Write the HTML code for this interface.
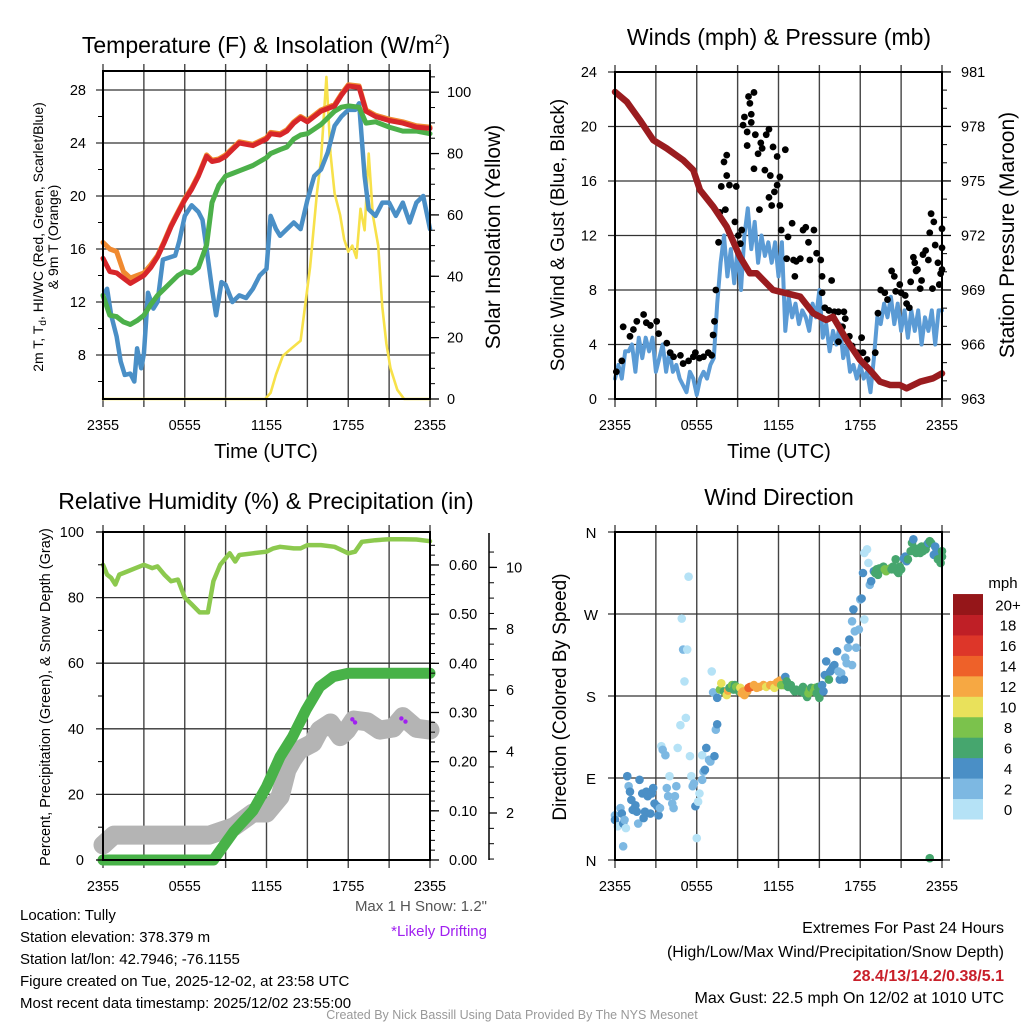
<!DOCTYPE html>
<html><head><meta charset="utf-8"><title>Tully Mesonet Meteogram</title>
<style>
html,body{margin:0;padding:0;background:#fff;}
svg{display:block;font-family:"Liberation Sans",sans-serif;}
</style></head>
<body>
<svg id="chart" xmlns="http://www.w3.org/2000/svg" width="1024" height="1024" viewBox="0 0 1024 1024">
<rect x="0" y="0" width="1024" height="1024" fill="#fff"/>
<g id="grids"></g>
<g id="marks"></g>
<g id="frames"></g>
<g id="labels" font-size="14.5" fill="#000"></g>

<text x="266" y="53" font-size="23" text-anchor="middle">Temperature (F) &amp; Insolation (W/m<tspan font-size="14" dy="-9">2</tspan><tspan dy="9">)</tspan></text>
<text x="779" y="45" font-size="23" text-anchor="middle">Winds (mph) &amp; Pressure (mb)</text>
<text x="266" y="509" font-size="23" text-anchor="middle">Relative Humidity (%) &amp; Precipitation (in)</text>
<text x="779" y="505" font-size="23" text-anchor="middle">Wind Direction</text>

<text x="266" y="458" font-size="20" text-anchor="middle">Time (UTC)</text>
<text x="779" y="458" font-size="20" text-anchor="middle">Time (UTC)</text>

<text transform="translate(43,237) rotate(-90)" font-size="14" text-anchor="middle">2m T, T<tspan font-size="10" dy="3">d</tspan><tspan dy="-3">, HI/WC (Red, Green, Scarlet/Blue)</tspan></text>
<text transform="translate(58,237) rotate(-90)" font-size="14" text-anchor="middle">&amp; 9m T (Orange)</text>
<text transform="translate(500,237) rotate(-90)" font-size="21" text-anchor="middle">Solar Insolation (Yellow)</text>
<text transform="translate(564,235) rotate(-90)" font-size="19" text-anchor="middle">Sonic Wind &amp; Gust (Blue, Black)</text>
<text transform="translate(1014,235) rotate(-90)" font-size="21" text-anchor="middle">Station Pressure (Maroon)</text>
<text transform="translate(50,697) rotate(-90)" font-size="14.5" text-anchor="middle">Percent, Precipitation (Green), &amp; Snow Depth (Gray)</text>
<text transform="translate(566,697) rotate(-90)" font-size="19" text-anchor="middle">Direction (Colored By Speed)</text>

<text x="1003" y="588" font-size="15" text-anchor="middle">mph</text>
<g id="colorbar"></g>

<text x="487" y="911" font-size="15" text-anchor="end" fill="#555">Max 1 H Snow: 1.2"</text>
<text x="487" y="936" font-size="15" text-anchor="end" fill="#a020f0">*Likely Drifting</text>

<g font-size="15">
<text x="20" y="920">Location: Tully</text>
<text x="20" y="942">Station elevation: 378.379 m</text>
<text x="20" y="964">Station lat/lon: 42.7946; -76.1155</text>
<text x="20" y="986">Figure created on Tue, 2025-12-02, at 23:58 UTC</text>
<text x="20" y="1008">Most recent data timestamp: 2025/12/02 23:55:00</text>
</g>
<g font-size="16" text-anchor="end">
<text x="1004" y="933">Extremes For Past 24 Hours</text>
<text x="1004" y="957">(High/Low/Max Wind/Precipitation/Snow Depth)</text>
<text x="1004" y="981" fill="#c8202a" font-weight="bold">28.4/13/14.2/0.38/5.1</text>
<text x="1004" y="1003">Max Gust: 22.5 mph On 12/02 at 1010 UTC</text>
</g>
<text x="512" y="1019" font-size="12.5" fill="#999" text-anchor="middle">Created By Nick Bassill Using Data Provided By The NYS Mesonet</text>
</svg>

<script>
// ---------- DATA ----------
const timeTickLabels = ["2355","0555","1155","1755","2355"];
const tempTickLabels = [8,12,16,20,24,28];
const insolTickLabels = [0,20,40,60,80,100];
const windTickLabels = [0,4,8,12,16,20,24];
const pressTickLabels = [963,966,969,972,975,978,981];
const rhTickLabels = [0,20,40,60,80,100];
const precipTickLabels = [0.00,0.10,0.20,0.30,0.40,0.50,0.60];
const snowTickLabels = [2,4,6,8,10];
const dirTickLabels = ["N","E","S","W","N"];
const dirTickValues = [0,90,180,270,360];
const speedBins = ["0","2","4","6","8","10","12","14","16","18","20+"];
const speedColors = ["#b5e2f6","#7db8e2","#4a8fc6","#46a66e","#7bc24c","#e9e15b","#f6a843","#ee6129","#dd3629","#bf1f26","#951619"];

const tempTimes = [0,0.5,1,1.5,2,2.5,3,3.5,4,4.5,5,5.5,6,6.5,7,7.6,8,8.5,9,9.5,10,11,12,12.3,13,13.5,14,14.5,15,16,17,17.5,18,18.8,19.3,20,21,22,23,24];
const tempRed    = [15.3,14.3,14.2,13.8,13.4,13.7,14.0,14.6,15.4,16.5,17.7,18.7,19.7,20.5,21.5,23.0,22.6,22.7,23.0,23.5,24.0,23.8,24.3,24.7,24.6,24.9,25.5,25.9,25.6,26.4,26.8,27.6,28.3,28.2,26.4,26.0,25.7,25.5,25.2,25.1];
const tempOrange = [16.5,16.0,15.8,14.3,13.8,14.0,14.2,14.8,15.5,16.6,17.8,18.8,19.8,20.6,21.6,23.1,22.7,22.8,23.1,23.6,24.1,23.9,24.4,24.8,24.7,25.0,25.6,26.0,25.7,26.5,26.9,27.7,28.4,28.3,26.5,26.1,25.8,25.6,25.3,25.2];
const dewGreen   = [12.5,11.0,10.9,10.5,10.3,10.6,11.0,11.8,12.5,13.0,13.5,14.0,14.3,14.2,14.6,16.3,19.5,20.8,21.5,21.7,21.9,22.3,22.9,23.2,23.5,23.7,24.3,24.6,24.7,25.4,26.4,26.7,26.8,26.7,25.5,25.6,25.2,24.9,24.9,24.7];
const chillTimes = [0,0.3,0.6,1,1.3,1.6,2,2.3,2.5,2.8,3,3.3,3.7,4,4.4,5.3,5.6,6,6.5,7,7.3,7.6,8,8.3,8.7,9,9.5,10,10.5,11,11.5,12,12.3,12.7,13,13.5,14,14.5,15,15.5,16,16.5,17,17.5,18,18.5,18.8,19.2,19.5,20,20.5,21,21.5,22,22.5,23,23.5,24];
const chillBlue  = [12.5,13,11,9.4,7.5,6.5,6.6,6.0,8.5,7.0,8.1,12.7,11.5,12.0,15.2,15.5,16.6,18.5,19.3,18.8,18.2,16,13,11,13.5,13.3,12,12.5,12.3,13,14,14.5,18.5,17.5,17,17.5,18,17.5,19.7,21.5,22,23.3,25.3,26,26.5,26.5,27,21.5,19,18.5,19.5,19.5,18.5,19.5,18,19.5,20,17.5];
const insolTimes = [0,11.9,12.3,12.7,13.2,13.7,14.5,15.2,15.7,16.0,16.4,16.7,17.0,17.4,17.7,18.0,18.3,18.6,18.9,19.2,19.5,19.8,20.2,20.5,20.8,21.1,21.6,22.1,24];
const insolYellow= [0,0,2,8,14,16,19,43,67,78,105,80,67,60,52,48,50,46,62,55,80,60,50,30,18,10,3,0,0];

const windStepHours = 0.25;
const sonicWind = [1.5,2.5,1.5,3.5,3.5,4,2,4.5,3,4.5,3.5,4.5,2,3,4,2,3.5,2,2.5,1.5,1,0.5,2,1.5,0.3,1.5,2,1.5,2.5,3,7,10,12,9,11,8.5,11,8,12,14,11,13,10,12,10.5,11.5,10,11.5,9,11.5,5,7.5,6,7,5.5,6.5,6,5,7,6,8,4.5,5.5,3.5,5,4,5.5,3,4,2,2.5,1.5,2.5,1.5,2,0.5,3,6,5.5,7,6,7.5,5.5,7,5,6.5,4.5,6.5,5,6.5,4,6,5,6.5,4,6.5,6.5];
const gustTimes = [0.1,0.5,0.6,1.1,1.35,1.6,2.1,2.3,2.6,3.06,3.2,3.8,4.05,4.3,4.8,5.0,5.4,5.75,5.9,6.2,6.5,6.85,7.1,7.2,7.3,7.4,7.6,7.7,7.8,8.0,8.2,8.1,8.2,8.4,8.9,8.8,9.05,9.2,9.3,9.4,9.5,9.7,9.7,9.8,9.9,10.0,10.0,10.2,10.3,10.2,10.5,10.7,10.8,10.6,11.0,11.1,11.3,11.3,11.4,11.5,11.6,11.7,11.9,11.9,12.1,12.1,12.2,12.5,12.6,12.7,13.0,13.1,13.3,13.6,13.2,13.8,14.0,14.2,14.3,14.6,14.8,15.1,15.2,15.2,15.4,15.7,15.9,16.1,16.4,16.8,16.9,16.7,16.4,17.2,17.4,17.8,18.1,18.2,18.5,19.1,19.3,19.5,19.8,20.0,20.3,20.5,20.6,20.9,21.0,21.3,21.4,21.6,21.7,21.9,22.0,22.1,22.2,22.4,22.5,22.6,22.8,23.0,23.1,23.2,23.3,23.4,23.5,23.7,23.8,23.9,24.0,24.0,24.0];
const gustSpeed = [2.0,2.8,5.3,4.6,5.1,5.7,6.2,5.6,5.4,5.7,4.8,4.1,3.4,3.1,3.2,2.6,2.8,3.1,3.4,3.0,3.1,3.4,3.2,4.7,5.7,8.0,11.5,13.7,15.6,17.4,17.9,13.9,16.4,15.7,15.6,13.0,12.0,11.4,12.4,20.1,20.7,19.6,18.6,22.2,21.7,20.3,20.9,22.5,19.4,16.9,18.0,18.8,18.4,13.9,16.8,19.4,19.8,14.8,16.4,14.2,18.5,15.2,17.8,15.7,16.3,14.2,12.4,18.3,10.3,11.9,12.9,10.2,10.1,10.3,9.0,12.4,12.6,11.5,10.2,12.4,10.7,10.2,9.0,7.8,6.7,6.5,8.7,6.4,6.4,6.4,5.9,5.3,4.2,4.6,3.9,3.4,4.5,3.4,2.9,3.4,6.3,8.0,7.8,7.3,9.4,9.0,7.9,8.4,7.8,7.6,7.0,6.7,8.6,10.4,10.0,9.4,9.5,8.1,8.7,10.6,10.9,10.2,12.2,13.6,8.1,13.0,11.3,10.0,8.4,9.2,11.1,9.5,12.5];
const pressTimes = [0,0.86,1.83,2.81,3.79,5.0,5.75,6.24,7.22,8.2,9.17,9.9,10.4,11.6,12.6,13.6,14.55,15.5,16.0,17.0,17.98,18.7,19.45,20.2,20.9,21.4,22.4,23.35,24];
const pressure   = [979.9,979.36,978.35,977.25,976.8,976.15,975.6,974.5,973.58,972.48,970.83,969.92,969.92,969.0,968.82,968.63,967.72,967.35,967.53,966.25,965.15,964.6,963.95,963.77,963.77,963.59,963.95,964.14,964.41];

const rhTimes = [0,0.3,0.6,0.9,1.2,1.8,2.4,3,3.6,4,4.5,5,5.5,6,6.5,7.1,7.7,8.1,8.6,9.3,9.7,10,11,12,12.5,13,14,14.5,15,16,17,18,18.5,19,20,21,22,23,24];
const relHumidity = [90,87,86,84,87,88,89,90,89,89.5,87,85,85.5,80,78,75.5,75.5,85,90,93.5,91,93,93.5,94,95,95.5,95,95,96,96,95.5,93.5,94,97,97.5,97.8,97.8,97.7,97.2];
const precipTimes = [0,8.1,9.6,11.0,12.0,13.0,13.9,14.9,15.9,16.9,18.0,24];
const precipIn    = [0,0,0.058,0.10,0.149,0.21,0.25,0.305,0.352,0.373,0.38,0.38];
const snowTimes = [0,0.8,7.8,9.6,11.0,12.0,13.0,13.5,13.9,14.4,15.4,15.9,16.7,17.4,17.9,18.4,19.4,20.3,21.3,22.0,23.0,24];
const snowDepth = [0.96,1.28,1.28,1.55,2.0,2.0,2.53,3.4,3.73,4.05,4.28,4.7,4.93,4.49,4.7,5.03,4.97,4.7,4.77,5.14,4.76,4.7];
const driftTimes = [18.3,18.5,21.9,22.2];
const driftDepth = [5.05,4.95,5.08,4.98];

const dirTimes = [0,0,0.2,0.4,0.5,0.6,0.7,0.8,0.9,1.0,1.1,1.2,1.3,1.5,1.6,1.7,1.8,2.0,2.1,2.2,2.3,2.4,2.6,2.7,2.8,2.9,3.1,3.2,3.3,0.6,
3.4,3.5,3.7,3.8,3.9,4.0,4.2,4.3,4.4,4.5,4.6,4.8,4.9,5.0,5.1,5.2,5.3,5.4,5.5,5.6,5.7,5.8,5.9,6.0,6.1,6.2,6.4,6.4,6.5,6.6,6.7,6.9,7.0,7.1,7.2,7.3,7.4,7.5,7.5,
7.7,7.8,8.0,8.2,8.3,8.4,8.6,8.7,8.8,8.9,9.1,9.2,9.3,9.4,9.5,9.7,9.8,9.9,10.0,10.2,10.4,10.6,10.9,11.1,11.4,11.6,11.7,11.9,12.1,12.2,12.4,12.5,12.6,12.7,12.9,13.1,13.2,13.3,13.6,13.8,13.9,14.1,14.2,14.3,14.4,14.6,14.7,14.8,14.9,15.0,15.2,15.3,
15.4,15.5,15.7,15.8,15.9,16.0,16.1,16.3,16.4,16.5,16.6,16.8,16.9,17.0,17.1,17.2,17.4,17.5,17.4,17.6,17.7,17.9,18.0,18.1,18.2,18.3,18.3,18.5,18.6,18.7,18.8,
19.0,19.1,19.2,19.3,19.4,19.6,19.7,19.8,19.9,20.1,20.2,20.3,20.4,20.6,20.7,20.8,20.9,21.0,21.2,21.3,21.4,21.5,21.7,21.8,21.9,22.0,22.1,22.3,22.4,22.5,22.6,22.8,22.9,23.0,23.1,23.2,23.4,23.5,23.6,23.7,23.9,24.0,24.0,23.1];
const dirDeg = [49,44,37,57,51,40,44,35,92,81,75,66,55,60,53,40,88,73,46,53,75,70,51,73,79,62,59,49,57,15,
125,121,115,79,70,92,62,57,70,81,123,148,265,231,196,156,231,311,114,92,81,84,59,24,64,73,115,88,97,99,123,110,108,207,184,114,143,149,178,
187,194,185,181,186,189,192,187,192,190,185,189,183,185,181,185,189,190,190,192,189,190,192,190,192,192,189,195,197,192,192,201,196,190,192,187,185,187,185,190,183,179,183,187,189,185,189,183,190,178,192,185,
203,218,198,207,209,212,214,229,207,198,205,198,222,216,233,242,214,275,262,251,233,253,286,287,315,264,337,341,326,302,306,
317,315,319,313,320,319,322,319,317,319,320,319,322,330,317,315,322,319,331,333,328,330,339,348,352,342,337,342,337,344,339,341,346,348,350,348,335,344,339,330,326,339,333,2];
const dirSpeed = [2,4,0,2,4,4,2,0,4,2,4,4,4,4,4,2,4,4,4,4,4,4,4,4,4,4,4,4,2,2,
0,2,2,2,2,0,2,2,2,2,0,0,0,2,0,0,0,0,0,0,2,2,4,0,0,0,0,2,2,4,4,2,2,0,2,4,2,4,4,
8,10,6,10,12,6,8,6,6,8,6,10,12,12,12,12,14,14,14,12,12,12,12,10,12,12,10,12,12,8,8,4,6,6,6,6,6,6,6,6,6,6,8,8,6,8,8,6,6,6,4,4,
4,4,6,4,4,4,4,4,2,4,2,4,2,2,2,4,2,4,2,2,2,2,2,4,4,0,0,0,0,2,4,
4,6,6,6,6,6,6,8,8,8,8,6,6,6,6,6,6,6,4,4,4,6,6,6,4,6,6,6,6,6,6,6,6,4,6,6,4,4,4,6,6,6,6,6];

// ---------- GEOMETRY ----------
const NS = "http://www.w3.org/2000/svg";
const G = {grid:document.getElementById('grids'), marks:document.getElementById('marks'), frame:document.getElementById('frames'), lab:document.getElementById('labels'), cbar:document.getElementById('colorbar')};
function mk(tag, parent, attrs){ const e=document.createElementNS(NS,tag); for(const k in attrs) e.setAttribute(k,attrs[k]); parent.appendChild(e); return e; }

const P1={x0:103,x1:430,y0:71,y1:399}, P2={x0:615,x1:942,y0:72,y1:399}, P3={x0:103,x1:430,y0:532,y1:860}, P4={x0:615,x1:942,y0:532,y1:860};
const xT = (P,t)=> P.x0 + t/24*(P.x1-P.x0);
const yTemp = v=> 355 - (v-8)*13.25;
const yInsol = v=> 399 - v*3.068;
const yWind = v=> 399 - v*13.625;
const yPress = p=> 399 - (p-963)*18.17;
const yPct = v=> 860 - v*3.28;
const yPrecip = v=> 860 - v*491.7;
const ySnow = v=> 874.4 - v*30.7;
const yDir = d=> 860 - d*0.9111;

function pathFrom(P, times, vals, yf){ let d=""; for(let i=0;i<times.length;i++){ d+=(i?"L":"M")+xT(P,times[i]).toFixed(1)+","+yf(vals[i]).toFixed(1);} return d; }

// ---------- FRAMES / GRID ----------
function frame(P, name, hVals, hFn){
  for(let h=0; h<=24; h+=3){
    const x=xT(P,h);
    const g=mk('line',G.grid,{x1:x,x2:x,y1:P.y0-7,y2:P.y1+8,stroke:'#444','stroke-width':1.4});
    
    
  }
  hVals.forEach(v=>{
    const y=hFn(v);
    const g=mk('line',G.grid,{x1:P.x0-7,x2:P.x1,y1:y,y2:y,stroke:'#333','stroke-width':1.3});
    
    
  });
  const r=mk('rect',G.frame,{x:P.x0,y:P.y0,width:P.x1-P.x0,height:P.y1-P.y0,fill:'none',stroke:'#000','stroke-width':2});
  
  
  timeTickLabels.forEach((s,i)=>{
    const t=mk('text',G.lab,{x:xT(P,i*6),y:P.y1+31,'text-anchor':'middle'}); t.textContent=s;
    
    
  });
}
function leftLabels(P,name,vals,fn,xr,txt){
  vals.forEach((v,i)=>{
    const t=mk('text',G.lab,{x:xr,y:fn(v)+5,'text-anchor':'end'}); t.textContent= txt?txt[i]:v;
    
    
  });
}
function rightAxis(name,x,vals,fn,minor,fmt,xl,lenMaj){
  minor.forEach(v=>{ const l=mk('line',G.frame,{x1:x,x2:x+5,y1:fn(v),y2:fn(v),stroke:'#000','stroke-width':1});
    
     });
  vals.forEach(v=>{ const y=fn(v);
    const l=mk('line',G.frame,{x1:x,x2:x+lenMaj,y1:y,y2:y,stroke:'#000','stroke-width':1.3});
    
    
    const t=mk('text',G.lab,{x:xl,y:y+5}); t.textContent=fmt(v);
    
     });
}

// Panel 1
frame(P1,'temperature',tempTickLabels,yTemp);
leftLabels(P1,'temperature',tempTickLabels,yTemp,86);
[6,10,14,18,22,26].forEach(v=>{const l=mk('line',G.frame,{x1:P1.x0-5,x2:P1.x0,y1:yTemp(v),y2:yTemp(v),stroke:'#000'});  });
const insMinor=[]; for(let v=5; v<=105; v+=5) insMinor.push(v);
rightAxis('insolation',P1.x1,insolTickLabels,yInsol,insMinor,v=>v,447,9);
// Panel 2
frame(P2,'winds',windTickLabels,yWind);
leftLabels(P2,'winds',windTickLabels,yWind,597);
const prMinor=[]; for(let v=963; v<=981; v+=1) prMinor.push(v);
rightAxis('pressure',P2.x1,pressTickLabels,yPress,prMinor,v=>v,961,9);
// Panel 3
frame(P3,'humidity',[20,40,60,80],yPct);
leftLabels(P3,'humidity',rhTickLabels,yPct,84);
[10,30,50,70,90].forEach(v=>{const l=mk('line',G.frame,{x1:P3.x0-5,x2:P3.x0,y1:yPct(v),y2:yPct(v),stroke:'#000'});  });
[0,100].forEach(v=>{const l=mk('line',G.frame,{x1:P3.x0-7,x2:P3.x0,y1:yPct(v),y2:yPct(v),stroke:'#000','stroke-width':1.3});  });
const pcMinor=[]; for(let v=0.02; v<=0.66; v+=0.02) pcMinor.push(v);
rightAxis('precip',P3.x1,precipTickLabels,yPrecip,pcMinor,v=>v.toFixed(2),449,9);
const snowAxis=mk('line',G.frame,{x1:489,x2:489,y1:533,y2:860,stroke:'#000','stroke-width':1.5});


const snMinor=[]; for(let v=0.5; v<=10.6; v+=0.5) snMinor.push(v);
rightAxis('snow-depth',489,snowTickLabels,ySnow,snMinor.filter(v=>ySnow(v)>533&&ySnow(v)<860),v=>v,506,8);
// Panel 4
frame(P4,'direction',dirTickValues,yDir);
dirTickValues.forEach((v,i)=>{ const t=mk('text',G.lab,{x:591,y:yDir(v)+6,'text-anchor':'middle','font-size':15}); t.textContent=dirTickLabels[i];
  
   });
dirTickValues.forEach(v=>{const l=mk('line',G.grid,{x1:P4.x1,x2:P4.x1+8,y1:yDir(v),y2:yDir(v),stroke:'#333','stroke-width':1.3});  });

// colorbar
speedBins.forEach((s,i)=>{
  const h=20.45, y=819-(i+1)*h;
  const r=mk('rect',G.cbar,{x:953,y:y,width:30,height:h+0.5,fill:speedColors[i]});
  
  
  const t=mk('text',G.cbar,{x:1008,y:y+h/2+6,'text-anchor':'middle','font-size':15}); t.textContent=s;
  
  
});

// ---------- SERIES ----------
function line(P,times,vals,yf,color,w,name){
  const p=mk('path',G.marks,{d:pathFrom(P,times,vals,yf),fill:'none',stroke:color,'stroke-width':w,'stroke-linejoin':'round','stroke-linecap':'round'});
  
  
  return p;
}
// Panel 1
line(P1,insolTimes,insolYellow,yInsol,'#f7e14a',2.6,'insolation-line');
line(P1,chillTimes,chillBlue,yTemp,'#4a8fc6',4.5,'wind-chill-line');
line(P1,tempTimes,dewGreen,yTemp,'#4cb04a',5,'dewpoint-line');
line(P1,tempTimes,tempOrange,yTemp,'#f08a30',5,'temp-9m-line');
line(P1,tempTimes,tempRed,yTemp,'#d7262a',5,'temp-2m-line');
// Panel 2
const windTimes = sonicWind.map((v,i)=>i*windStepHours);
line(P2,windTimes,sonicWind,yWind,'#5b9bd5',4,'sonic-wind-line');
gustTimes.forEach((t,i)=>{
  const c=mk('circle',G.marks,{cx:xT(P2,t),cy:yWind(gustSpeed[i]),r:3.4,fill:'#000'});
  
  
});
line(P2,pressTimes,pressure,yPress,'#9a1c1f',6.5,'pressure-line');
// Panel 3
line(P3,snowTimes,snowDepth,ySnow,'#b4b4b4',19,'snow-depth-line');
line(P3,precipTimes,precipIn,yPrecip,'#48b248',11,'precipitation-line');
line(P3,rhTimes,relHumidity,yPct,'#8cc94e',4.5,'relative-humidity-line');
driftTimes.forEach((t,i)=>{
  const c=mk('circle',G.marks,{cx:xT(P3,t),cy:ySnow(driftDepth[i]),r:2.2,fill:'#a020f0'});
  
  
});
// Panel 4
function speedColor(s){ const idx=Math.min(10,Math.max(0,Math.round(s/2))); return speedColors[idx]; }
dirTimes.forEach((t,i)=>{
  const c=mk('circle',G.marks,{cx:xT(P4,t),cy:yDir(dirDeg[i]),r:4.3,fill:speedColor(dirSpeed[i])});
  
  
});
</script>
</body></html>
